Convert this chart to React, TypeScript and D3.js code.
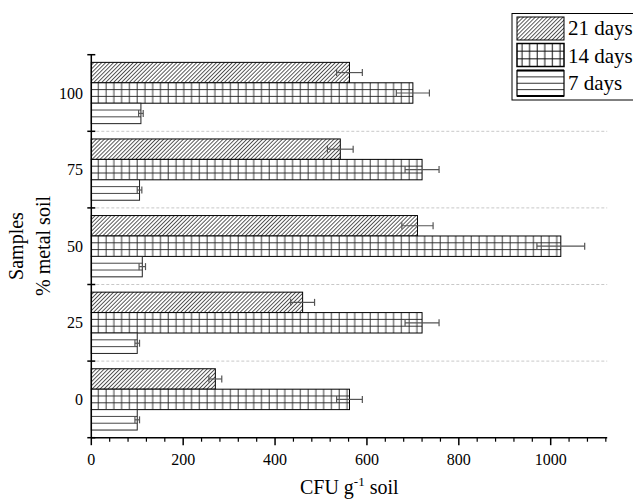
import React from "react";
import * as d3 from "d3";

const categories = ["0", "25", "50", "75", "100"];
const seriesNames = ["21 days", "14 days", "7 days"];
const days21 = [270, 460, 710, 542, 562];
const days14 = [562, 720, 1022, 720, 700];
const days7 = [100, 100, 111, 105, 108];
const err21 = [14, 26, 34, 28, 28];
const err14 = [28, 37, 52, 37, 36];
const err7 = [5, 5, 7, 5, 5];
const xMajorTicks = [0, 200, 400, 600, 800, 1000];

const FONT = "'Liberation Serif', 'Times New Roman', serif";

export default function App() {
  const W = 633;
  const H = 499;
  const x = d3.scaleLinear().domain([0, 1123]).range([91.3, 607.2]);
  const y = d3
    .scaleBand<string>()
    .domain([...categories].reverse())
    .range([54.7, 437.7]);
  const bw = y.bandwidth();
  const inner = d3
    .scaleBand<string>()
    .domain(seriesNames)
    .range([0.1 * bw, 0.9 * bw]);
  const bh = inner.bandwidth();

  const valuesBySeries: Record<string, number[]> = {
    "21 days": days21,
    "14 days": days14,
    "7 days": days7,
  };
  const errBySeries: Record<string, number[]> = {
    "21 days": err21,
    "14 days": err14,
    "7 days": err7,
  };

  const minorTicks = d3.range(40, 1121, 40).filter((v) => v % 200 !== 0);
  const x0 = x(0);
  const yTop = y.range()[0];
  const yBot = y.range()[1];
  const boundaries = [...y.domain().map((c) => y(c) as number), yBot];

  const bars: React.ReactNode[] = [];
  const errs: React.ReactNode[] = [];

  categories.forEach((cat, i) => {
    seriesNames.forEach((s) => {
      const v = valuesBySeries[s][i];
      const e = errBySeries[s][i];
      const by = (y(cat) as number) + (inner(s) as number);
      const bx = x(0);
      const wpx = x(v) - x(0);
      const key = `${cat}-${s}`;
      if (s === "21 days") {
        bars.push(
          <rect key={key} x={bx} y={by} width={wpx} height={bh} fill="url(#hatch)" stroke="#000" strokeWidth={1} />
        );
      } else if (s === "14 days") {
        bars.push(
          <g key={key}>
            <rect x={bx} y={by} width={wpx} height={bh} fill="url(#vgrid)" />
            {[1, 2].map((k) => (
              <line key={k} x1={bx} x2={bx + wpx} y1={by + (k * bh) / 3} y2={by + (k * bh) / 3} stroke="#222" strokeWidth={0.9} />
            ))}
            <rect x={bx} y={by} width={wpx} height={bh} fill="none" stroke="#000" strokeWidth={1} />
          </g>
        );
      } else {
        bars.push(
          <g key={key}>
            <rect x={bx} y={by} width={wpx} height={bh} fill="#fff" />
            {[1, 2].map((k) => (
              <line key={k} x1={bx} x2={bx + wpx} y1={by + (k * bh) / 3} y2={by + (k * bh) / 3} stroke="#333" strokeWidth={0.9} />
            ))}
            <rect x={bx} y={by} width={wpx} height={bh} fill="none" stroke="#222" strokeWidth={1} />
          </g>
        );
      }
      const cy = by + bh / 2;
      errs.push(
        <g key={"e" + key} stroke="#555" strokeWidth={1.2}>
          <line x1={x(v - e)} x2={x(v + e)} y1={cy} y2={cy} />
          <line x1={x(v - e)} x2={x(v - e)} y1={cy - 3.5} y2={cy + 3.5} />
          <line x1={x(v + e)} x2={x(v + e)} y1={cy - 3.5} y2={cy + 3.5} />
        </g>
      );
    });
  });

  // legend
  const lgX = 512;
  const lgY = 13.5;
  const swX = 517;
  const swW = 47;
  const rows = [
    { name: "21 days", y: 17, h: 23, base: 35 },
    { name: "14 days", y: 43.5, h: 23, base: 62.5 },
    { name: "7 days", y: 70.5, h: 25.5, base: 90 },
  ];

  return (
    <svg
      width={W}
      height={H}
      style={{ position: "absolute", left: 0, top: 0, background: "#fff" }}
      fontFamily={FONT}
    >
      <defs>
        <pattern id="hatch" patternUnits="userSpaceOnUse" width={2.8} height={2.8} patternTransform="rotate(45)">
          <rect width={2.8} height={2.8} fill="#fff" />
          <line x1={1.4} x2={1.4} y1={0} y2={2.8} stroke="#111" strokeWidth={0.7} />
        </pattern>
        <pattern id="vgrid" patternUnits="userSpaceOnUse" x={x0} y={0} width={7.77} height={10}>
          <rect width={7.77} height={10} fill="#fff" />
          <line x1={7} x2={7} y1={0} y2={10} stroke="#222" strokeWidth={0.9} />
        </pattern>
        <pattern id="vgridL" patternUnits="userSpaceOnUse" x={swX} y={0} width={7.6} height={10}>
          <rect width={7.6} height={10} fill="#fff" />
          <line x1={5} x2={5} y1={0} y2={10} stroke="#111" strokeWidth={1} />
        </pattern>
      </defs>

      {/* gridlines */}
      {boundaries.slice(1, -1).map((b, i) => (
        <line key={i} x1={x0} x2={x(1123)} y1={b} y2={b} stroke="#c8c8c8" strokeWidth={1} strokeDasharray="3,2" />
      ))}

      {bars}
      {errs}

      {/* Y axis */}
      <line x1={x0} x2={x0} y1={yTop} y2={yBot} stroke="#000" strokeWidth={1.5} />
      {boundaries.map((b, i) => (
        <line key={i} x1={x0 - 4} x2={x0 + 4} y1={b} y2={b} stroke="#000" strokeWidth={1.5} />
      ))}
      {categories.map((c) => (
        <text key={c} x={83} y={(y(c) as number) + bw / 2} dy="0.35em" textAnchor="end" fontSize={16} fill="#000">
          {c}
        </text>
      ))}

      {/* X axis */}
      <line x1={x0} x2={x(1123)} y1={yBot} y2={yBot} stroke="#000" strokeWidth={1.5} />
      {xMajorTicks.map((t) => (
        <g key={t}>
          <line x1={x(t)} x2={x(t)} y1={yBot} y2={yBot + 7.5} stroke="#000" strokeWidth={1.5} />
          <text x={x(t)} y={464.5} textAnchor="middle" fontSize={16} fill="#000">
            {t}
          </text>
        </g>
      ))}
      {minorTicks.map((t) => (
        <line key={t} x1={x(t)} x2={x(t)} y1={yBot} y2={yBot + 4} stroke="#000" strokeWidth={1.2} />
      ))}

      {/* axis titles */}
      <text x={(x0 + x(1123)) / 2} y={494} textAnchor="middle" fontSize={20} fill="#000">
        CFU g
        <tspan dy={-8} fontSize={13}>-1</tspan>
        <tspan dy={8}> soil</tspan>
      </text>
      <text transform={`translate(22.5,246) rotate(-90)`} textAnchor="middle" fontSize={20} fill="#000">
        Samples
      </text>
      <text transform={`translate(50,246) rotate(-90)`} textAnchor="middle" fontSize={20} fill="#000">
        % metal soil
      </text>

      {/* legend */}
      <rect x={lgX} y={lgY} width={140} height={86.5} fill="#fff" stroke="#000" strokeWidth={1} />
      {rows.map((r) => (
        <g key={r.name}>
          {r.name === "21 days" && (
            <rect x={swX} y={r.y} width={swW} height={r.h} fill="url(#hatch)" stroke="#000" strokeWidth={1} />
          )}
          {r.name === "14 days" && (
            <g>
              <rect x={swX} y={r.y} width={swW} height={r.h} fill="url(#vgridL)" />
              {[1, 2].map((k) => (
                <line key={k} x1={swX} x2={swX + swW} y1={r.y + (k * r.h) / 3} y2={r.y + (k * r.h) / 3} stroke="#111" strokeWidth={1} />
              ))}
              <rect x={swX} y={r.y} width={swW} height={r.h} fill="none" stroke="#000" strokeWidth={1.5} />
            </g>
          )}
          {r.name === "7 days" && (
            <g>
              <rect x={swX} y={r.y} width={swW} height={r.h} fill="#fff" />
              {[1, 2, 3].map((k) => (
                <line key={k} x1={swX} x2={swX + swW} y1={r.y + (k * r.h) / 4} y2={r.y + (k * r.h) / 4} stroke="#333" strokeWidth={1} />
              ))}
              <rect x={swX} y={r.y} width={swW} height={r.h} fill="none" stroke="#000" strokeWidth={1.2} />
              <line x1={swX} x2={swX + swW} y1={r.y} y2={r.y} stroke="#000" strokeWidth={2} />
              <line x1={swX} x2={swX + swW} y1={r.y + r.h} y2={r.y + r.h} stroke="#000" strokeWidth={2} />
            </g>
          )}
          <text x={568} y={r.base} fontSize={21} fill="#000">
            {r.name}
          </text>
        </g>
      ))}
    </svg>
  );
}
